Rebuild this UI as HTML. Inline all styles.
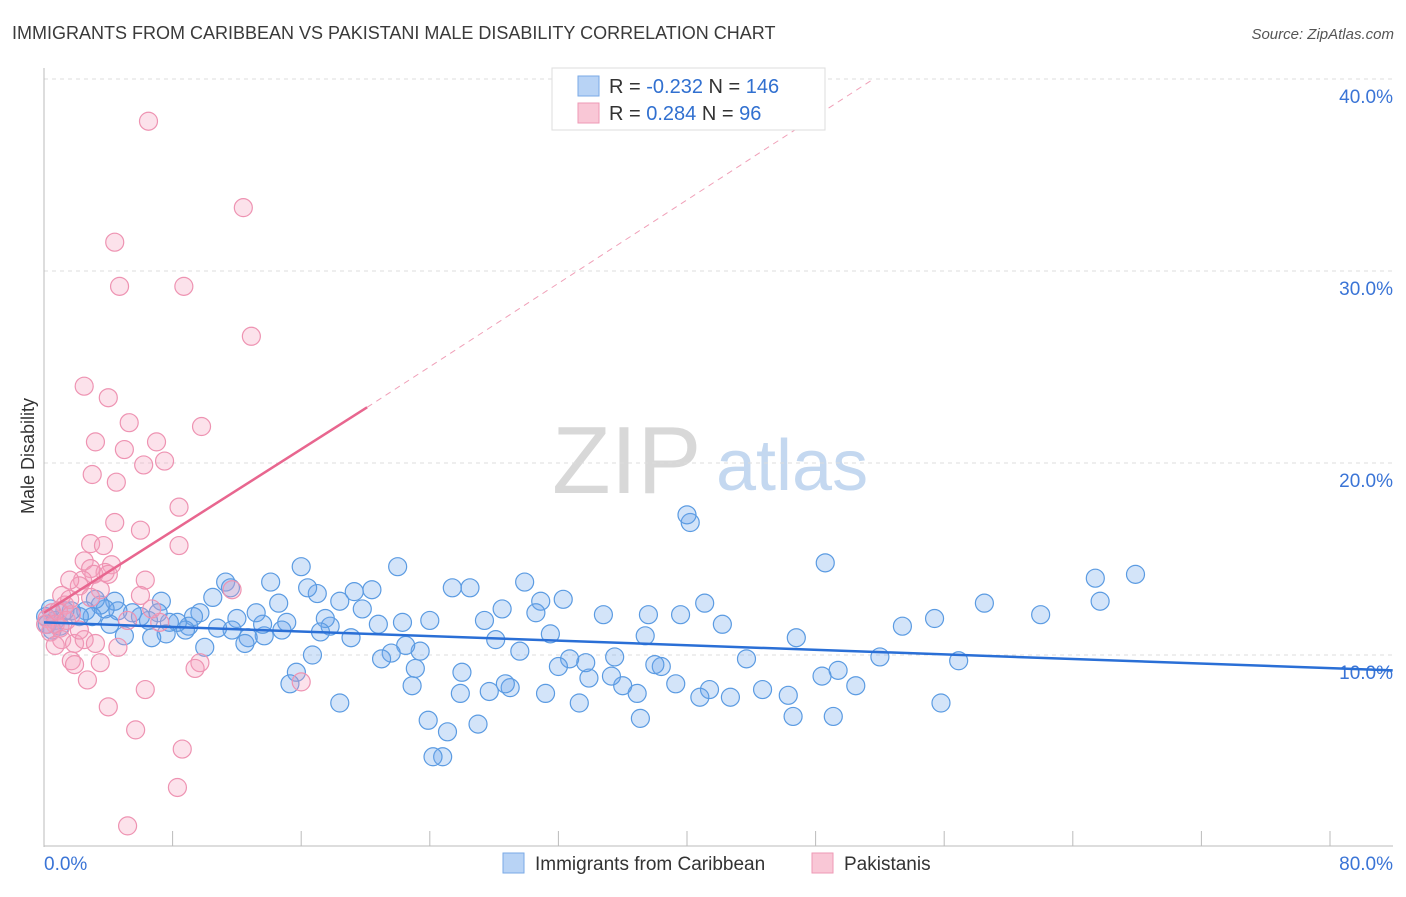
<!DOCTYPE html>
<html><head><meta charset="utf-8"><style>
body{margin:0;background:#fff;font-family:"Liberation Sans",sans-serif}
svg text{font-family:"Liberation Sans",sans-serif}
</style></head><body>
<svg id="chart" width="1406" height="892" xmlns="http://www.w3.org/2000/svg">
<text x="12" y="39" font-size="18" fill="#3a3a3a">IMMIGRANTS FROM CARIBBEAN VS PAKISTANI MALE DISABILITY CORRELATION CHART</text>
<text x="1394" y="39" font-size="15" font-style="italic" fill="#555" text-anchor="end">Source: ZipAtlas.com</text>
<text x="552" y="493" font-size="96" font-family="Liberation Serif" fill="#d8d8d8">ZIP</text>
<text x="716" y="490" font-size="72" fill="#c4d8f0">atlas</text>
<g id="grid"></g><g id="axes"></g><g id="trends"></g><g id="pts"></g>
<text transform="translate(34,456) rotate(-90)" font-size="18" fill="#333" text-anchor="middle">Male Disability</text>
<g>
<rect x="552" y="68" width="273" height="62" fill="#fff" stroke="#ddd"/>
<rect x="578" y="76" width="21" height="20" fill="#b8d3f5" stroke="#7aaae6"/>
<rect x="578" y="103" width="21" height="20" fill="#f9c7d6" stroke="#ee9ab5"/>
<text x="609" y="93" font-size="20" fill="#333">R = <tspan fill="#3170d0">-0.232</tspan>   N = <tspan fill="#3170d0">146</tspan></text>
<text x="609" y="120" font-size="20" fill="#333">R =  <tspan fill="#3170d0"> 0.284</tspan>   N =  <tspan fill="#3170d0"> 96</tspan></text>
</g>
<g>
<rect x="503" y="853" width="21" height="20" fill="#b8d3f5" stroke="#7aaae6"/>
<text x="535" y="870" font-size="19" fill="#333">Immigrants from Caribbean</text>
<rect x="812" y="853" width="21" height="20" fill="#f9c7d6" stroke="#ee9ab5"/>
<text x="844" y="870" font-size="19" fill="#333">Pakistanis</text>
</g>
</svg>
<script>
const yTicks=[10,20,30,40];
const yTickLabels=["10.0%","20.0%","30.0%","40.0%"];
const xTickVals=[0,8,16,24,32,40,48,56,64,72,80];
const xEndLabels=["0.0%","80.0%"];
const blueX=[67.9,65.4,65.7,58.5,62.0,55.4,53.4,56.9,55.8,52.0,50.5,49.4,48.4,49.1,48.6,46.8,46.6,46.3,44.7,43.7,42.7,42.2,41.4,40.8,41.1,40.2,40.0,39.6,39.3,38.4,38.0,37.4,37.6,37.1,36.9,36.0,35.5,35.3,34.8,33.9,33.7,33.3,32.7,32.3,32.0,31.2,31.5,30.9,30.6,29.9,29.6,29.0,28.7,28.5,28.1,27.7,27.4,27.0,26.5,26.0,25.9,25.4,25.1,24.8,24.2,23.9,24.0,23.4,23.1,22.9,22.5,22.0,22.3,21.6,21.0,20.8,20.4,19.8,19.3,19.1,18.4,18.4,17.8,17.5,17.2,16.7,17.0,16.4,16.0,15.7,15.3,15.1,14.8,14.6,14.1,13.7,13.6,13.2,12.7,12.5,12.0,11.7,11.3,11.6,10.8,10.5,10.0,9.7,9.3,9.0,8.8,8.3,7.8,7.6,7.3,7.1,6.7,6.5,6.0,5.5,5.0,4.6,4.4,4.1,3.8,3.5,3.2,3.0,2.6,2.2,1.7,1.3,0.7,0.4,0.2,0.1,0.5,1.0];
const blueY=[14.2,14.0,12.8,12.7,12.1,11.9,11.5,9.7,7.5,9.9,8.4,9.2,8.9,6.8,14.8,10.9,6.8,7.9,8.2,9.8,7.8,11.6,8.2,7.8,12.7,16.9,17.3,12.1,8.5,9.4,9.5,11.0,12.1,6.7,8.0,8.4,9.9,8.9,12.1,8.8,9.6,7.5,9.8,12.9,9.4,8.0,11.1,12.8,12.2,13.8,10.2,8.3,8.5,12.4,10.8,8.1,11.8,6.4,13.5,9.1,8.0,13.5,6.0,4.7,4.7,6.6,11.8,10.2,9.3,8.4,10.5,14.6,11.7,10.1,9.8,11.6,13.4,12.4,13.3,10.9,7.5,12.8,11.5,11.9,11.2,10.0,13.2,13.5,14.6,9.1,8.5,11.7,11.3,12.7,13.8,11.0,11.6,12.2,10.9,10.6,11.9,11.3,13.8,13.5,11.4,13.0,10.4,12.2,12.0,11.5,11.3,11.7,11.7,11.1,12.8,12.2,10.9,11.8,12.0,12.2,11.0,12.3,12.8,11.6,12.4,12.6,12.9,12.0,12.3,12.0,12.3,12.3,11.8,12.4,11.6,12.0,11.3,11.5];
const pinkX=[6.5,12.4,4.4,8.7,4.7,12.9,2.5,4.0,9.8,5.3,7.0,3.2,5.0,7.5,6.2,3.0,4.5,8.4,4.4,6.0,2.9,3.7,8.4,2.5,4.2,2.9,3.8,3.1,6.3,2.4,2.2,4.0,3.5,1.6,1.1,2.9,1.3,0.9,0.5,0.2,0.7,0.4,1.0,1.4,1.7,1.1,0.7,1.9,2.5,3.2,1.7,1.9,2.7,3.5,4.6,6.0,7.2,4.0,5.7,6.3,9.7,11.7,8.6,8.3,5.2,16.0,6.7,5.2,0.1,1.6,2.2,9.4];
const pinkY=[37.8,33.3,31.5,29.2,29.2,26.6,24.0,23.4,21.9,22.1,21.1,21.1,20.7,20.1,19.9,19.4,19.0,17.7,16.9,16.5,15.8,15.7,15.7,14.9,14.7,14.5,14.3,14.2,13.9,13.9,13.6,14.2,13.4,13.9,13.1,13.0,12.6,12.3,12.2,11.9,11.6,11.2,11.4,11.8,12.1,10.8,10.5,10.6,10.8,10.6,9.7,9.5,8.7,9.6,10.4,13.1,11.7,7.3,6.1,8.2,9.6,13.4,5.1,3.1,1.1,8.6,12.4,11.8,11.6,12.9,11.3,9.3];
const blueTrend=[[0,11.7],[83.9,9.2]];
const pinkTrendSolid=[[0,12.2],[20.1,22.9]];
const pinkTrendDashed=[[20.1,22.9],[51.6,40.0]];
const NS="http://www.w3.org/2000/svg";
function X(v){return 44+v/80*1286;}
function Y(v){return 847-v*19.2;}
function mk(tag,attrs,parent){const e=document.createElementNS(NS,tag);for(const k in attrs)e.setAttribute(k,attrs[k]);parent.appendChild(e);return e;}
const grid=document.getElementById('grid'),axes=document.getElementById('axes'),tr=document.getElementById('trends'),pts=document.getElementById('pts');
yTicks.forEach((t,i)=>{
 const l=mk('line',{x1:44,x2:1393,y1:Y(t),y2:Y(t),stroke:'#ddd','stroke-dasharray':'4,4'},grid);
 
 
 const tx=mk('text',{x:1393,y:Y(t)+24,'font-size':19,fill:'#3a74d6','text-anchor':'end'},grid);
 tx.textContent=yTickLabels[i];
 
 
});
const ya=mk('line',{x1:44,x2:44,y1:68,y2:847,stroke:'#bbb'},axes);


const xa=mk('line',{x1:44,x2:1393,y1:846,y2:846,stroke:'#bbb'},axes);


xTickVals.forEach(v=>{
 const l=mk('line',{x1:X(v),x2:X(v),y1:831,y2:846,stroke:'#bbb'},axes);
 
 
});
const xl0=mk('text',{x:44,y:870,'font-size':19,fill:'#3a74d6'},axes);
xl0.textContent=xEndLabels[0];


const xl1=mk('text',{x:1393,y:870,'font-size':19,fill:'#3a74d6','text-anchor':'end'},axes);
xl1.textContent=xEndLabels[1];


blueX.forEach((v,i)=>{
 const c=mk('circle',{cx:X(v),cy:Y(blueY[i]),r:9,fill:'rgba(110,165,235,0.3)',stroke:'#5b9be2','stroke-width':1.2},pts);
 
 
});
pinkX.forEach((v,i)=>{
 const c=mk('circle',{cx:X(v),cy:Y(pinkY[i]),r:9,fill:'rgba(245,160,190,0.3)',stroke:'#ee93b2','stroke-width':1.2},pts);
 
 
});
const bt=mk('line',{x1:X(blueTrend[0][0]),y1:Y(blueTrend[0][1]),x2:X(blueTrend[1][0]),y2:Y(blueTrend[1][1]),stroke:'#2a6fd6','stroke-width':2.5},pts);


const pt=mk('line',{x1:X(pinkTrendSolid[0][0]),y1:Y(pinkTrendSolid[0][1]),x2:X(pinkTrendSolid[1][0]),y2:Y(pinkTrendSolid[1][1]),stroke:'#e8668f','stroke-width':2.5},pts);


const pd=mk('line',{x1:X(pinkTrendDashed[0][0]),y1:Y(pinkTrendDashed[0][1]),x2:X(pinkTrendDashed[1][0]),y2:Y(pinkTrendDashed[1][1]),stroke:'#f0a0b8','stroke-width':1,'stroke-dasharray':'6,5'},pts);


</script>
</body></html>
